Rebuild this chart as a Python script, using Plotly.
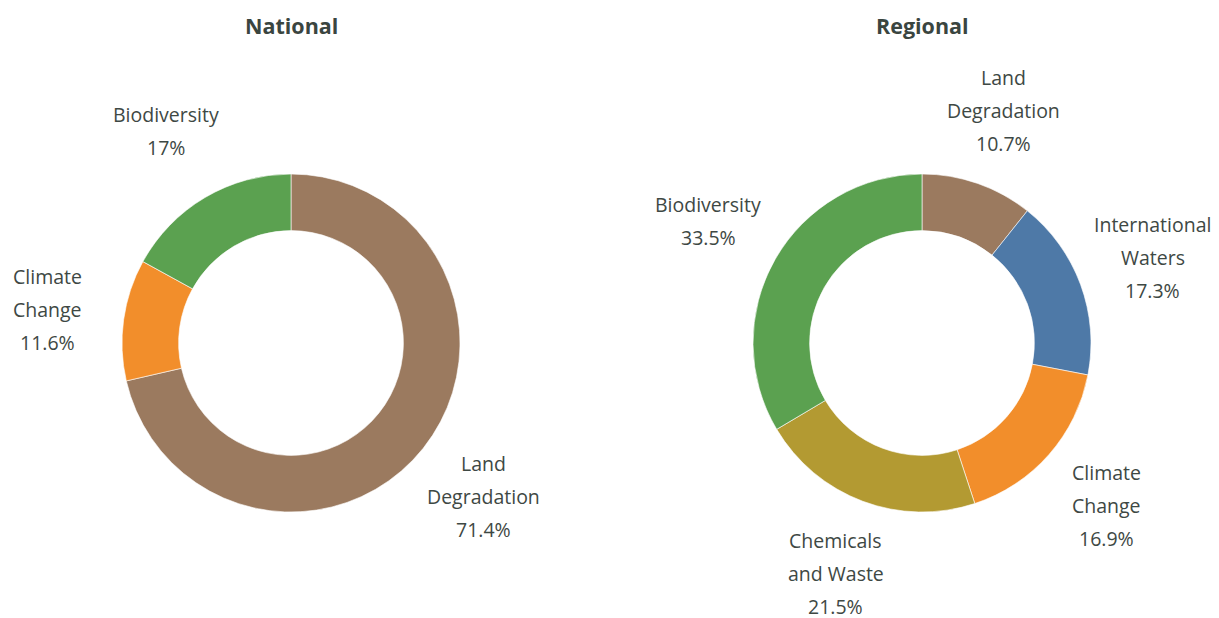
import math
import plotly.graph_objects as go

# ---- data ----
national_labels = ["Land Degradation", "Climate Change", "Biodiversity"]
national_values = [71.4, 11.6, 17.0]
national_text = ["71.4%", "11.6%", "17%"]
national_lines = [["Land", "Degradation"], ["Climate", "Change"], ["Biodiversity"]]

regional_labels = ["Land Degradation", "International Waters", "Climate Change",
                   "Chemicals and Waste", "Biodiversity"]
regional_values = [10.7, 17.3, 16.9, 21.5, 33.5]
regional_text = ["10.7%", "17.3%", "16.9%", "21.5%", "33.5%"]
regional_lines = [["Land", "Degradation"], ["International", "Waters"], ["Climate", "Change"],
                  ["Chemicals", "and Waste"], ["Biodiversity"]]

colors = {
    "Land Degradation": "#9B7A5F",
    "Climate Change": "#F28E2B",
    "Biodiversity": "#5BA150",
    "International Waters": "#4E79A7",
    "Chemicals and Waste": "#B39A32",
}

W, H = 1219, 618
R = 169          # pie radius px
LABEL_R = 246    # label distance px
LINE_H = 33
TXT = "#3E4844"
FONT = "Open Sans"

centers = [(291, 343), (922, 343)]
titles = ["National", "Regional"]
datasets = [
    (national_labels, national_values, national_text, national_lines),
    (regional_labels, regional_values, regional_text, regional_lines),
]

fig = go.Figure()
annotations = []
for (cx, cy), title, (labels, values, texts, lines) in zip(centers, titles, datasets):
    dom_x = [(cx - R) / W, (cx + R) / W]
    dom_y = [1 - (cy + R) / H, 1 - (cy - R) / H]
    fig.add_trace(go.Pie(
        labels=labels, values=values, hole=0.665, sort=False,
        direction="clockwise", rotation=0, textinfo="none",
        marker=dict(colors=[colors[l] for l in labels], line=dict(color="white", width=0.6)),
        domain=dict(x=dom_x, y=dom_y), showlegend=False, hoverinfo="label+value",
    ))
    total = sum(values)
    cum = 0.0
    pcx, pcy = cx / W, 1 - cy / H
    for v, t, ln in zip(values, texts, lines):
        mid = (cum + v / 2) / total * 2 * math.pi
        cum += v
        ax = pcx + LABEL_R * math.sin(mid) / W
        ay = pcy + LABEL_R * math.cos(mid) / H
        all_lines = ln + [t]
        n = len(all_lines)
        for i, s in enumerate(all_lines):
            annotations.append(dict(
                x=ax, y=ay, xref="paper", yref="paper", text=s, showarrow=False,
                xanchor="center", yanchor="middle",
                yshift=((n - 1) / 2 - i) * LINE_H,
                font=dict(family=FONT, size=19.5, color=TXT),
            ))
    annotations.append(dict(
        x=pcx, y=1 - 25 / H, xref="paper", yref="paper", text="<b>" + title + "</b>",
        showarrow=False, xanchor="center", yanchor="middle",
        font=dict(family=FONT, size=21.5, color="#3A4540"),
    ))

fig.update_layout(
    width=W, height=H, margin=dict(l=0, r=0, t=0, b=0),
    paper_bgcolor="white", plot_bgcolor="white",
    annotations=annotations,
)
fig.write_html("out.html", config={"displayModeBar": False},
               post_script="document.body.style.margin='0';")
